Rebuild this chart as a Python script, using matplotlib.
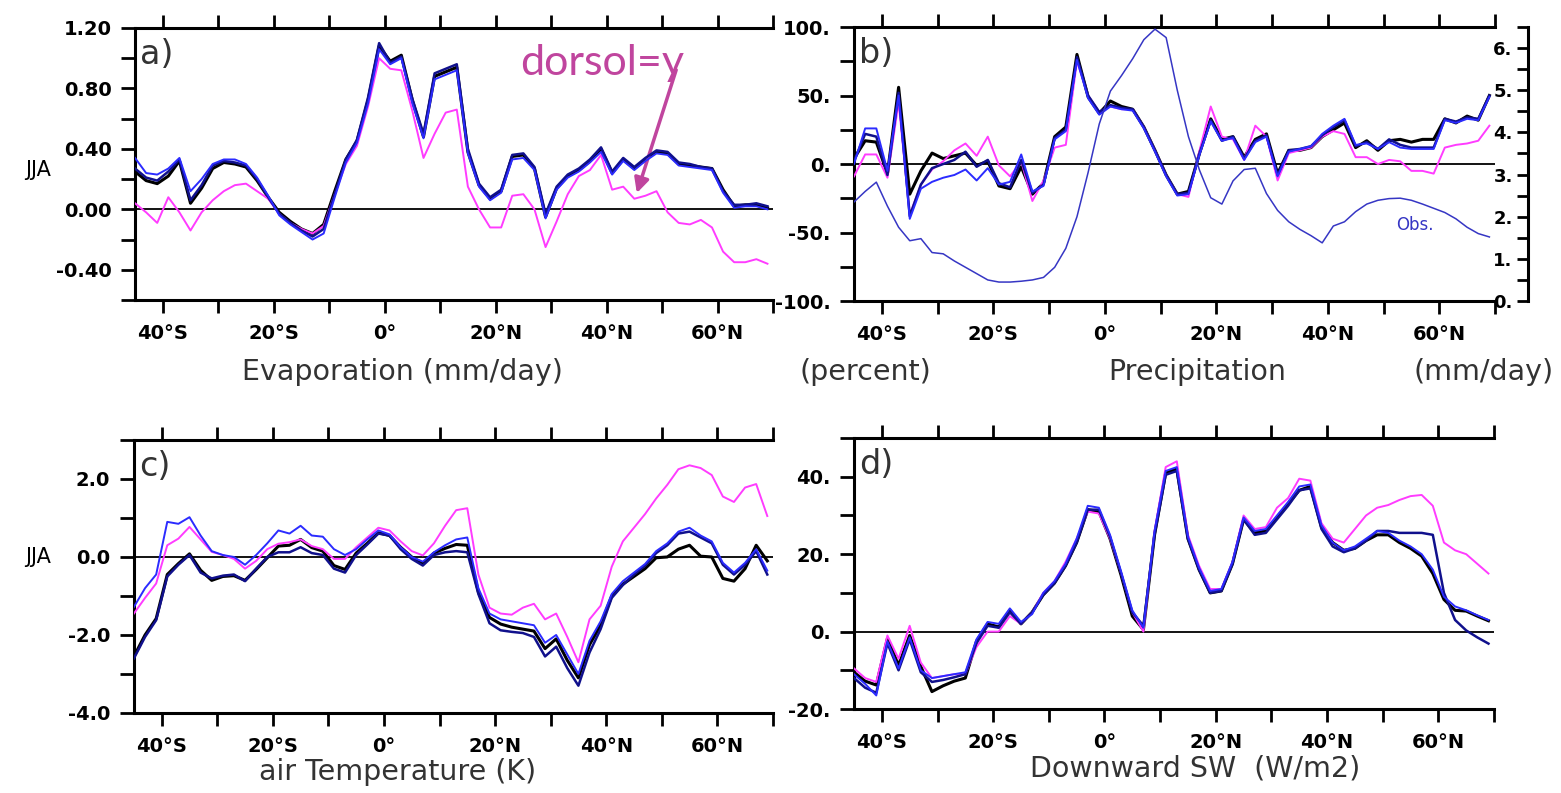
import matplotlib
matplotlib.use('Agg')
import matplotlib.pyplot as plt

# latitude of every model point (deg, negative = south)
LATS = list(range(-45, 70, 2))

XTICKS = [-40, -30, -20, -10, 0, 10, 20, 30, 40, 50, 60, 70]
XLABELS = ['40°S', '', '20°S', '', '0°', '', '20°N', '', '40°N', '', '60°N', '']

# a) evaporation (mm/day)
EVAP_BLACK = [0.25, 0.19, 0.17, 0.22, 0.32, 0.04, 0.14, 0.27, 0.31, 0.30, 0.28, 0.19, 0.08, -0.02, -0.08, -0.13, -0.16, -0.10, 0.12, 0.33,
              0.45, 0.72, 1.08, 0.98, 1.02, 0.72, 0.48, 0.88, 0.91, 0.94, 0.38, 0.16, 0.07, 0.12, 0.35, 0.36, 0.27, -0.05, 0.14, 0.22,
              0.26, 0.32, 0.40, 0.24, 0.33, 0.27, 0.33, 0.38, 0.37, 0.30, 0.29, 0.28, 0.27, 0.13, 0.02, 0.03, 0.03, 0.01]
EVAP_NAVY = [0.27, 0.21, 0.19, 0.25, 0.33, 0.06, 0.16, 0.29, 0.32, 0.31, 0.29, 0.20, 0.08, -0.03, -0.09, -0.14, -0.18, -0.13, 0.10, 0.33,
             0.46, 0.74, 1.10, 0.97, 1.01, 0.73, 0.50, 0.90, 0.93, 0.96, 0.40, 0.17, 0.08, 0.13, 0.36, 0.37, 0.28, -0.03, 0.15, 0.23,
             0.27, 0.33, 0.41, 0.25, 0.34, 0.28, 0.34, 0.39, 0.38, 0.31, 0.30, 0.28, 0.27, 0.12, 0.03, 0.03, 0.04, 0.02]
EVAP_BLUE = [0.34, 0.24, 0.23, 0.27, 0.34, 0.12, 0.20, 0.30, 0.33, 0.33, 0.30, 0.21, 0.09, -0.04, -0.10, -0.15, -0.20, -0.16, 0.08, 0.31,
             0.44, 0.70, 1.06, 0.96, 1.00, 0.70, 0.47, 0.86, 0.89, 0.92, 0.37, 0.15, 0.06, 0.11, 0.33, 0.34, 0.26, -0.06, 0.13, 0.21,
             0.25, 0.31, 0.38, 0.23, 0.32, 0.26, 0.32, 0.37, 0.36, 0.29, 0.28, 0.27, 0.26, 0.11, 0.01, 0.02, 0.02, 0.00]
EVAP_MAG = [0.04, -0.02, -0.09, 0.08, -0.02, -0.14, -0.02, 0.06, 0.12, 0.16, 0.17, 0.12, 0.07, -0.03, -0.09, -0.13, -0.16, -0.11, 0.10, 0.30,
            0.42, 0.68, 1.00, 0.93, 0.92, 0.65, 0.34, 0.50, 0.64, 0.66, 0.15, 0.00, -0.12, -0.12, 0.09, 0.10, 0.00, -0.25, -0.08, 0.10,
            0.22, 0.26, 0.36, 0.13, 0.15, 0.07, 0.09, 0.12, -0.02, -0.09, -0.10, -0.07, -0.12, -0.28, -0.35, -0.35, -0.33, -0.36]

# b) precipitation (percent) and observed precipitation (mm/day)
PREC_BLACK = [4, 17, 16, -7, 56, -22, -5, 8, 4, 6, 8, -1, 2, -16, -18, -2, -22, -14, 20, 27,
              80, 49, 37, 46, 42, 40, 27, 10, -8, -22, -20, 8, 33, 18, 20, 5, 18, 22, -7, 10,
              10, 12, 20, 25, 30, 12, 17, 10, 17, 18, 16, 18, 18, 33, 30, 35, 32, 50]
PREC_NAVY = [2, 22, 20, -8, 52, -38, -15, -3, 0, 3, 9, -2, 3, -14, -17, 3, -21, -15, 19, 25,
             78, 50, 38, 43, 41, 40, 27, 10, -8, -22, -21, 8, 32, 17, 20, 4, 17, 21, -8, 10,
             11, 13, 21, 27, 32, 13, 16, 11, 18, 14, 12, 12, 12, 33, 31, 34, 33, 50]
PREC_BLUE = [0, 26, 26, -5, 50, -40, -18, -13, -10, -8, -4, -12, -3, -15, -13, 7, -20, -16, 18, 24,
             76, 48, 36, 42, 40, 39, 26, 9, -9, -23, -22, 7, 31, 17, 19, 3, 16, 20, -9, 9,
             11, 13, 22, 28, 33, 14, 15, 11, 16, 12, 11, 11, 11, 32, 30, 33, 32, 49]
PREC_MAG = [-9, 7, 7, -10, 45, -37, -15, -4, 2, 10, 15, 6, 20, -1, -9, 2, -27, -12, 12, 14,
            75, 50, 38, 42, 40, 40, 27, 10, -8, -22, -24, 10, 42, 20, 18, 3, 28, 20, -12, 8,
            10, 12, 20, 24, 22, 5, 5, 0, 3, 2, -5, -5, -7, 12, 14, 15, 17, 28]
PREC_OBS = [2.35, 2.6, 2.82, 2.25, 1.75, 1.43, 1.48, 1.15, 1.12, 0.95, 0.80, 0.65, 0.50, 0.45, 0.45, 0.47, 0.50, 0.56, 0.80, 1.25,
            2.0, 3.05, 4.2, 4.98, 5.35, 5.75, 6.2, 6.45, 6.25, 5.0, 3.9, 3.1, 2.45, 2.3, 2.85, 3.12, 3.15, 2.55, 2.15, 1.88,
            1.7, 1.55, 1.38, 1.78, 1.88, 2.12, 2.3, 2.39, 2.43, 2.44, 2.39, 2.3, 2.2, 2.1, 1.95, 1.75, 1.6, 1.52]

# c) air temperature (K)
TAIR_BLACK = [-2.55, -2.0, -1.58, -0.45, -0.17, 0.08, -0.34, -0.6, -0.5, -0.48, -0.6, -0.32, -0.02, 0.28, 0.3, 0.45, 0.24, 0.15, -0.22, -0.32,
              0.1, 0.35, 0.62, 0.55, 0.25, 0.0, -0.17, 0.1, 0.22, 0.32, 0.3, -0.9, -1.55, -1.72, -1.8, -1.85, -1.9, -2.35, -2.1, -2.65,
              -3.1, -2.25, -1.75, -1.0, -0.7, -0.5, -0.3, -0.02, 0.0, 0.2, 0.3, 0.02, 0.0, -0.55, -0.62, -0.3, 0.3, -0.1]
TAIR_NAVY = [-2.6, -2.05, -1.62, -0.5, -0.2, 0.05, -0.4, -0.55, -0.48, -0.45, -0.62, -0.3, 0.0, 0.12, 0.12, 0.25, 0.1, 0.05, -0.3, -0.4,
             0.05, 0.32, 0.6, 0.55, 0.2, -0.05, -0.22, 0.05, 0.12, 0.15, 0.12, -0.95, -1.7, -1.88, -1.92, -1.95, -2.05, -2.55, -2.3, -2.85,
             -3.3, -2.45, -1.85, -1.05, -0.72, -0.45, -0.22, 0.1, 0.3, 0.6, 0.65, 0.5, 0.35, -0.2, -0.45, -0.2, 0.15, -0.45]
TAIR_BLUE = [-1.28, -0.8, -0.45, 0.9, 0.85, 1.02, 0.55, 0.15, 0.05, 0.0, -0.2, 0.05, 0.35, 0.68, 0.6, 0.8, 0.55, 0.52, 0.2, 0.05,
             0.2, 0.45, 0.68, 0.58, 0.25, 0.0, -0.12, 0.12, 0.3, 0.45, 0.5, -0.8, -1.45, -1.6, -1.65, -1.7, -1.75, -2.2, -2.0, -2.5,
             -3.0, -2.15, -1.65, -0.95, -0.62, -0.4, -0.18, 0.15, 0.35, 0.65, 0.75, 0.55, 0.4, -0.15, -0.4, -0.15, 0.2, -0.35]
TAIR_MAG = [-1.45, -1.05, -0.68, 0.3, 0.47, 0.77, 0.45, 0.13, 0.05, -0.05, -0.3, -0.1, 0.2, 0.34, 0.38, 0.45, 0.28, 0.2, -0.05, -0.05,
            0.25, 0.5, 0.75, 0.68, 0.4, 0.15, 0.04, 0.35, 0.8, 1.2, 1.25, -0.45, -1.3, -1.45, -1.48, -1.3, -1.2, -1.6, -1.45, -2.05,
            -2.7, -1.6, -1.25, -0.25, 0.4, 0.75, 1.1, 1.5, 1.85, 2.25, 2.35, 2.28, 2.1, 1.55, 1.41, 1.78, 1.87, 1.05]

# d) downward shortwave (W/m2)
SW_BLACK = [-10.5, -12.8, -13.8, -1.8, -8.7, -1.0, -9.0, -15.5, -14.0, -12.8, -12.0, -2.5, 2.0, 1.2, 5.5, 2.0, 5.0, 9.5, 12.5, 17.0,
            23.0, 31.5, 31.0, 24.0, 14.5, 4.0, 0.5, 25.0, 41.0, 42.0, 24.0, 16.0, 10.0, 10.5, 17.5, 29.0, 25.5, 26.0, 29.5, 33.0,
            36.5, 37.5, 27.0, 23.0, 21.0, 21.5, 23.5, 25.0, 25.0, 23.0, 21.5, 19.5, 15.0, 8.3, 5.5, 5.3, 4.0, 2.8]
SW_NAVY = [-12, -14.5, -15.8, -3, -10, -2, -10.5, -13, -12.5, -11.8, -11, -3, 1.5, 1.0, 5, 2, 5, 9.5, 12.5, 17,
           23, 31.5, 31.5, 24.5, 15, 5, 1.5, 25, 40.5, 41.5, 24, 16, 10, 10.5, 17.5, 29, 25, 25.5, 29, 32.5,
           36.5, 37, 26.5, 22, 20.5, 21.5, 23.5, 26, 26, 25.5, 25.5, 25.5, 25, 10, 3, 0.3, -1.5, -3.1]
SW_BLUE = [-11, -13.5, -16.5, -2.5, -9.5, -1.5, -10, -12, -11.5, -11, -10.5, -2, 2.5, 2.0, 6, 2.5, 4.5, 10, 13, 17.5,
           24, 32.5, 32, 25, 15.5, 5.5, 1, 26, 41.5, 42.5, 24.5, 16.5, 10.5, 11, 18, 29.5, 26, 26.5, 30, 33.5,
           37.5, 38, 27.5, 23, 21, 22, 24, 26, 25.5, 23.5, 22, 20, 16, 9, 6.5, 5.5, 4.2, 3]
SW_MAG = [-9.5, -12, -13, -1, -7, 1.5, -8, -12, -11.5, -11, -11, -4, 0, 0, 4, 2, 5, 10, 13, 18,
          24, 31, 30.5, 24, 15, 5, 0, 26, 42.5, 44, 25, 17, 11, 11, 18, 30, 26.5, 27, 32, 34.5,
          39.5, 39, 28, 24, 23, 26.5, 30, 32, 32.7, 34, 35, 35.3, 32.5, 23, 21, 20, 17.5, 15]

BLACK = 'black'
NAVY = '#10108c'
BLUE = '#2b2bff'
MAGENTA = '#ff3cff'
OBS_COLOR = '#3636c4'
NOTE_COLOR = '#c0459e'
TEXT_COLOR = '#333333'


def setup_axis(ax, ylim, major, labels, minor, tag):
    ax.set_xlim(-45, 70)
    ax.set_ylim(*ylim)
    for side in ['left', 'top', 'bottom']:
        ax.spines[side].set_linewidth(2.2)
    ax.spines['right'].set_visible(False)
    ax.set_xticks(XTICKS)
    ax.set_xticklabels(XLABELS, fontweight='bold')
    ax.set_yticks(major)
    ax.set_yticklabels(labels, fontweight='bold')
    ax.set_yticks(minor, minor=True)
    ax.tick_params(axis='x', which='both', top=True, bottom=True, direction='out',
                   length=9.5, width=2, labelsize=14, pad=8)
    ax.tick_params(axis='y', which='both', left=True, right=False, direction='out',
                   length=10, width=2, labelsize=14, pad=7)
    ax.axhline(0, color='black', lw=1.3, zorder=1)
    ax.text(0.008, 0.965, tag, transform=ax.transAxes, ha='left', va='top',
            fontsize=24, color=TEXT_COLOR)


def draw_runs(ax, black, navy, blue, mag):
    ax.plot(LATS, black, color=BLACK, lw=2.2, zorder=3)
    ax.plot(LATS, mag, color=MAGENTA, lw=1.4, zorder=3)
    ax.plot(LATS, navy, color=NAVY, lw=1.8, zorder=4)
    ax.plot(LATS, blue, color=BLUE, lw=1.4, zorder=4)


fig = plt.figure(figsize=(15.61, 7.93), dpi=100)

ax_a = fig.add_axes([0.0865, 0.6217, 0.4087, 0.343])
ax_b = fig.add_axes([0.5471, 0.6204, 0.4106, 0.3455])
ax_c = fig.add_axes([0.0858, 0.1009, 0.4093, 0.3443])
ax_d = fig.add_axes([0.5471, 0.1059, 0.4100, 0.3417])

setup_axis(ax_a, (-0.6, 1.2), [1.2, 0.8, 0.4, 0.0, -0.4], ['1.20', '0.80', '0.40', '0.00', '-0.40'],
           [-0.6, -0.2, 0.2, 0.6, 1.0], 'a)')
draw_runs(ax_a, EVAP_BLACK, EVAP_NAVY, EVAP_BLUE, EVAP_MAG)

setup_axis(ax_b, (-100, 100), [100, 50, 0, -50, -100], ['100.', '50.', '0.', '-50.', '-100.'],
           [-75, -25, 25, 75], 'b)')
draw_runs(ax_b, PREC_BLACK, PREC_NAVY, PREC_BLUE, PREC_MAG)

# observed precipitation on its own axis, right of panel b
ax_obs = ax_b.twinx()
ax_obs.set_ylim(0, 6.5)
ax_obs.plot(LATS, PREC_OBS, color=OBS_COLOR, lw=1.1)
for side in ['right', 'top', 'bottom']:
    ax_obs.spines[side].set_visible(False)
ax_obs.spines['left'].set_position(('axes', 1.0515))
ax_obs.spines['left'].set_linewidth(2.2)
ax_obs.yaxis.tick_left()
ax_obs.set_yticks([0, 1, 2, 3, 4, 5, 6])
ax_obs.set_yticklabels(['0.', '1.', '2.', '3.', '4.', '5.', '6.'], fontweight='bold')
ax_obs.set_yticks([0.5, 1.5, 2.5, 3.5, 4.5, 5.5, 6.5], minor=True)
ax_obs.tick_params(axis='y', which='both', direction='out', length=8, width=2,
                   labelsize=13, pad=3)
ax_b.text(0.875, 0.277, 'Obs.', transform=ax_b.transAxes, ha='center', va='center',
          fontsize=12, color=OBS_COLOR)

setup_axis(ax_c, (-4, 3), [2, 0, -2, -4], ['2.0', '0.0', '-2.0', '-4.0'], [-3, -1, 1, 3], 'c)')
draw_runs(ax_c, TAIR_BLACK, TAIR_NAVY, TAIR_BLUE, TAIR_MAG)

setup_axis(ax_d, (-20, 50), [40, 20, 0, -20], ['40.', '20.', '0.', '-20.'], [-10, 10, 30, 50], 'd)')
draw_runs(ax_d, SW_BLACK, SW_NAVY, SW_BLUE, SW_MAG)

# labels under the panels
fig.text(0.2575, 0.531, 'Evaporation (mm/day)', ha='center', va='center', fontsize=20.5, color=TEXT_COLOR)
fig.text(0.5541, 0.531, '(percent)', ha='center', va='center', fontsize=20.5, color=TEXT_COLOR)
fig.text(0.7668, 0.531, 'Precipitation', ha='center', va='center', fontsize=20.5, color=TEXT_COLOR)
fig.text(0.9507, 0.531, '(mm/day)', ha='center', va='center', fontsize=20.5, color=TEXT_COLOR)
fig.text(0.2550, 0.027, 'air Temperature (K)', ha='center', va='center', fontsize=20.5, color=TEXT_COLOR)
fig.text(0.7655, 0.031, 'Downward SW  (W/m2)', ha='center', va='center', fontsize=20.5, color=TEXT_COLOR)
fig.text(0.0243, 0.7856, 'JJA', ha='center', va='center', fontsize=15, color='black')
fig.text(0.0243, 0.2976, 'JJA', ha='center', va='center', fontsize=15, color='black')

# note on the magenta run
ax_a.text(0.732, 0.827, 'dorsol=y', transform=ax_a.transAxes, ha='center', va='baseline',
          fontsize=31, family='Lato', color=NOTE_COLOR)
ax_a.annotate('', xy=(45.3, 0.09), xytext=(52.7, 0.94),
              arrowprops=dict(arrowstyle='-|>', color=NOTE_COLOR, lw=2.5, mutation_scale=22))

fig.savefig('out.png', dpi=100)
